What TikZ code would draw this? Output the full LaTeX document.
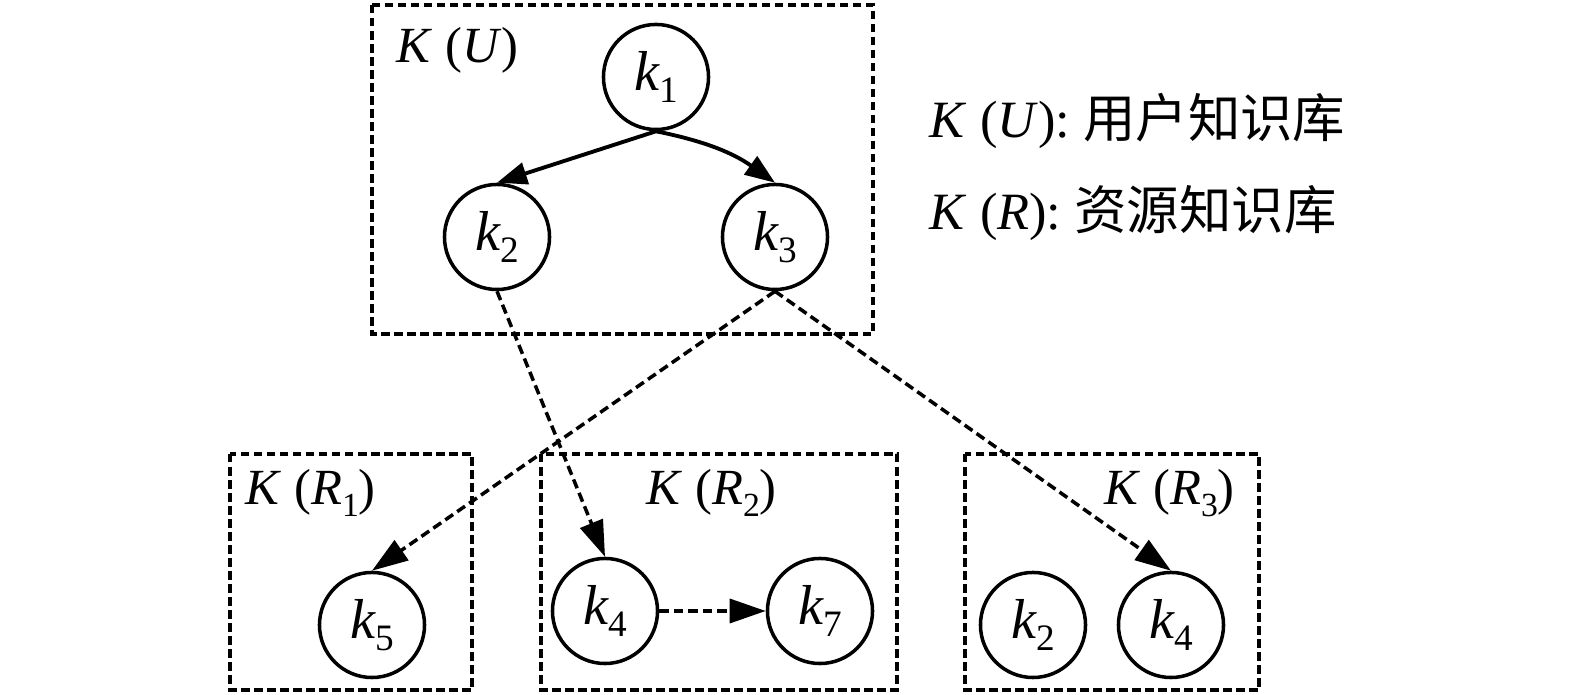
\documentclass[tikz,border=0pt]{standalone}
\usepackage{fontspec}
\setmainfont{Liberation Serif}
\newfontfamily\cjk{Noto Sans CJK SC}
\usetikzlibrary{arrows.meta}
\newcommand\nsub[1]{\raisebox{-0.22em}{\fontsize{10.6}{11}\selectfont #1}}
\newcommand\lsub[1]{\raisebox{-0.22em}{\fontsize{9.6}{10}\selectfont #1}}
\newcommand\kn[1]{\textit{k}\kern-0.3pt\nsub{#1}}
\begin{document}
\begin{tikzpicture}[x=0.01cm,y=-0.01cm,
  knode/.style={circle,draw,line width=1pt,minimum size=1.05cm,inner sep=0pt,
    font=\fontsize{16}{18}\selectfont},
  boxline/.style={draw,line width=1.05pt,dash pattern=on 0.085cm off 0.045cm},
  link/.style={line width=1.1pt,-{Triangle[length=0.3cm,width=0.22cm]}},
  dlink/.style={line width=1pt,dash pattern=on 0.095cm off 0.05cm,
    -{Triangle[length=0.36cm,width=0.24cm]}},
  lab/.style={anchor=base west,inner sep=0pt,font=\fontsize{14.4}{16}\selectfont},
  legend/.style={anchor=base west,inner sep=0pt,font=\fontsize{14.9}{16}\selectfont}]
\useasboundingbox (0,0) rectangle (1575,695);
% boxes
\draw[boxline] (372,5) rectangle (873,334);
\draw[boxline] (230,454) rectangle (472,690);
\draw[boxline] (541,454) rectangle (897,690);
\draw[boxline] (965,454) rectangle (1259,690);
% box labels
\node[lab] (lU) at (396,63) {\textit{K} (\textit{U})};
\node[lab] (lR1) at (245,505) {\textit{K} (\textit{R}\lsub{1})};
\node[lab] (lR2) at (646,505) {\textit{K} (\textit{R}\lsub{2})};
\node[lab] (lR3) at (1104,505) {\textit{K} (\textit{R}\lsub{3})};
% legend
\node[legend] (legU) at (929,138) {\textit{K} (\textit{U}): {\cjk 用户知识库}};
\node[legend] (legR) at (929,230) {\textit{K} (\textit{R}): {\cjk 资源知识库}};
% nodes
\node[knode] (k1) at (656,77) {\kn{1}};
\node[knode] (k2) at (497,237) {\kn{2}};
\node[knode] (k3) at (775,237) {\kn{3}};
\node[knode] (k5) at (372,625) {\kn{5}};
\node[knode] (k4) at (605,611) {\kn{4}};
\node[knode] (k7) at (820,611) {\kn{7}};
\node[knode] (r2) at (1033,625) {\kn{2}};
\node[knode] (r4) at (1171,625) {\kn{4}};
% connectors
\draw[link] (k1.south) -- (k2.north);
\draw[link] (k1.south) to[bend left=12] (k3.north);
\draw[dlink] (k2.south) -- (k4.north);
\draw[dlink] (k3.south) -- (k5.north);
\draw[dlink] (k3.south) -- (r4.north);
\draw[dlink] (k4.east) -- (k7.west);
\end{tikzpicture}
\end{document}
